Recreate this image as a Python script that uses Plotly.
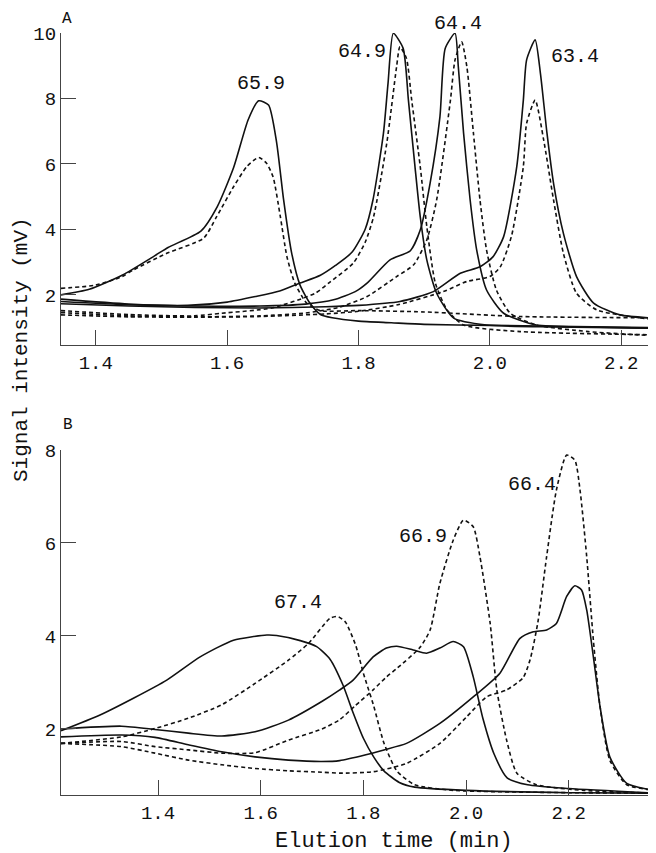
import plotly.graph_objects as go

# ---------------- Panel A data (elution time in min, signal in mV) ----------------
a659_sol_x = [1.347, 1.39, 1.44, 1.49, 1.51, 1.56, 1.585, 1.61, 1.632, 1.648, 1.663, 1.675, 1.686, 1.698, 1.711, 1.726, 1.742, 1.76, 1.80, 1.85, 1.90, 2.0, 2.1, 2.253]
a659_sol_y = [2.00, 2.17, 2.6, 3.2, 3.45, 3.95, 4.7, 5.9, 7.35, 7.93, 7.8, 6.7, 4.9, 3.3, 2.3, 1.75, 1.4, 1.3, 1.2, 1.15, 1.1, 1.07, 1.04, 1.0]
a659_das_x = [1.347, 1.40, 1.44, 1.457, 1.508, 1.564, 1.584, 1.61, 1.63, 1.648, 1.66, 1.67, 1.681, 1.691, 1.703, 1.721, 1.742, 1.80, 1.90, 2.046, 2.253]
a659_das_y = [2.2, 2.3, 2.56, 2.76, 3.27, 3.73, 4.39, 5.31, 5.92, 6.2, 6.02, 5.6, 4.39, 3.17, 2.36, 1.75, 1.52, 1.52, 1.48, 1.34, 1.3]

a649_sol_x = [1.347, 1.45, 1.54, 1.60, 1.643, 1.68, 1.711, 1.742, 1.765, 1.79, 1.81, 1.822, 1.838, 1.845, 1.853, 1.868, 1.876, 1.886, 1.894, 1.904, 1.919, 1.945, 1.995, 2.1, 2.253]
a649_sol_y = [1.87, 1.72, 1.68, 1.78, 1.95, 2.12, 2.36, 2.6, 2.9, 3.3, 4.0, 4.9, 6.94, 8.47, 9.99, 9.53, 7.95, 5.92, 4.39, 3.07, 2.05, 1.29, 1.08, 1.02, 0.98]
a649_das_x = [1.347, 1.45, 1.55, 1.592, 1.668, 1.734, 1.757, 1.792, 1.81, 1.823, 1.843, 1.858, 1.863, 1.873, 1.881, 1.894, 1.904, 1.917, 1.935, 1.96, 2.046, 2.253]
a649_das_y = [1.52, 1.4, 1.36, 1.44, 1.6, 2.05, 2.4, 2.97, 3.6, 4.39, 6.63, 8.97, 9.58, 9.23, 7.95, 5.92, 4.09, 2.36, 1.54, 1.08, 0.88, 0.78]

a644_sol_x = [1.347, 1.45, 1.55, 1.65, 1.719, 1.762, 1.795, 1.813, 1.848, 1.879, 1.894, 1.909, 1.924, 1.932, 1.947, 1.952, 1.96, 1.97, 1.98, 1.995, 2.021, 2.071, 2.15, 2.253]
a644_sol_y = [1.8, 1.7, 1.66, 1.66, 1.72, 1.85, 2.1, 2.36, 3.07, 3.35, 3.98, 5.41, 7.44, 9.53, 9.99, 8.97, 6.94, 4.9, 3.37, 2.15, 1.44, 1.08, 1.02, 0.98]
a644_das_x = [1.347, 1.45, 1.55, 1.65, 1.72, 1.77, 1.813, 1.858, 1.884, 1.904, 1.919, 1.94, 1.947, 1.957, 1.965, 1.975, 1.985, 1.995, 2.01, 2.031, 2.071, 2.15, 2.253]
a644_das_y = [1.46, 1.36, 1.33, 1.36, 1.45, 1.62, 1.95, 2.56, 2.92, 3.68, 4.9, 7.95, 9.18, 9.73, 8.97, 6.94, 4.9, 3.37, 2.15, 1.44, 1.08, 0.88, 0.75]

a634_sol_x = [1.347, 1.45, 1.55, 1.65, 1.75, 1.80, 1.863, 1.914, 1.955, 1.985, 2.005, 2.021, 2.041, 2.051, 2.056, 2.069, 2.077, 2.087, 2.097, 2.112, 2.132, 2.158, 2.198, 2.253]
a634_sol_y = [1.73, 1.66, 1.62, 1.6, 1.64, 1.68, 1.8, 2.1, 2.66, 2.86, 3.17, 3.78, 5.92, 7.95, 9.18, 9.79, 8.77, 6.94, 5.41, 3.88, 2.56, 1.75, 1.39, 1.29]
a634_das_x = [1.347, 1.45, 1.55, 1.65, 1.75, 1.80, 1.86, 1.929, 1.965, 2.0, 2.016, 2.033, 2.051, 2.056, 2.069, 2.082, 2.097, 2.112, 2.132, 2.163, 2.253]
a634_das_y = [1.39, 1.33, 1.32, 1.34, 1.42, 1.5, 1.7, 2.1, 2.41, 2.56, 2.86, 3.8, 5.92, 7.24, 7.95, 6.73, 4.9, 3.27, 2.05, 1.54, 1.24]

# ---------------- Panel B data ----------------
b674_sol_x = [1.211, 1.287, 1.352, 1.417, 1.482, 1.547, 1.612, 1.631, 1.677, 1.709, 1.735, 1.76, 1.78, 1.80, 1.82, 1.84, 1.87, 1.90, 2.0, 2.2, 2.37]
b674_sol_y = [1.96, 2.30, 2.66, 3.05, 3.55, 3.91, 4.02, 4.01, 3.90, 3.77, 3.5, 2.95, 2.35, 1.8, 1.4, 1.1, 0.85, 0.75, 0.68, 0.63, 0.62]
b674_das_x = [1.211, 1.329, 1.394, 1.459, 1.524, 1.589, 1.654, 1.693, 1.735, 1.75, 1.765, 1.785, 1.80, 1.82, 1.84, 1.865, 1.90, 1.975, 2.2, 2.37]
b674_das_y = [1.69, 1.83, 2.01, 2.23, 2.52, 2.98, 3.48, 3.84, 4.38, 4.42, 4.3, 3.8, 3.2, 2.5, 1.7, 1.1, 0.8, 0.68, 0.63, 0.62]

b669_sol_x = [1.211, 1.329, 1.394, 1.459, 1.524, 1.589, 1.654, 1.719, 1.754, 1.78, 1.819, 1.845, 1.865, 1.897, 1.923, 1.949, 1.975, 1.995, 2.014, 2.033, 2.055, 2.08, 2.12, 2.2, 2.37]
b669_sol_y = [2.0, 2.06, 1.99, 1.91, 1.85, 1.94, 2.19, 2.59, 2.84, 3.05, 3.55, 3.74, 3.78, 3.70, 3.63, 3.74, 3.88, 3.77, 3.12, 2.22, 1.45, 0.95, 0.8, 0.72, 0.62]
b669_das_x = [1.211, 1.329, 1.394, 1.459, 1.524, 1.589, 1.654, 1.719, 1.754, 1.784, 1.819, 1.845, 1.865, 1.91, 1.93, 1.949, 1.975, 1.995, 2.014, 2.027, 2.047, 2.06, 2.079, 2.099, 2.137, 2.23, 2.37]
b669_das_y = [1.69, 1.73, 1.62, 1.55, 1.48, 1.49, 1.76, 2.0, 2.2, 2.5, 2.84, 3.12, 3.3, 3.75, 4.13, 5.13, 6.06, 6.49, 6.35, 5.71, 4.27, 2.84, 1.76, 1.05, 0.80, 0.68, 0.62]

b664_sol_x = [1.211, 1.329, 1.394, 1.459, 1.524, 1.589, 1.654, 1.719, 1.754, 1.803, 1.84, 1.884, 1.949, 2.014, 2.066, 2.105, 2.131, 2.157, 2.176, 2.196, 2.212, 2.225, 2.235, 2.248, 2.261, 2.28, 2.313, 2.358, 2.37]
b664_sol_y = [1.83, 1.87, 1.82, 1.66, 1.51, 1.40, 1.33, 1.30, 1.32, 1.44, 1.55, 1.69, 2.12, 2.69, 3.20, 3.95, 4.09, 4.13, 4.27, 4.85, 5.08, 4.99, 4.56, 3.55, 2.48, 1.40, 0.83, 0.69, 0.65]
b664_das_x = [1.211, 1.329, 1.394, 1.459, 1.524, 1.589, 1.654, 1.719, 1.754, 1.819, 1.884, 1.949, 2.001, 2.04, 2.079, 2.111, 2.125, 2.14, 2.157, 2.176, 2.196, 2.212, 2.222, 2.235, 2.248, 2.261, 2.28, 2.313, 2.358, 2.37]
b664_das_y = [1.69, 1.62, 1.48, 1.33, 1.23, 1.15, 1.10, 1.07, 1.05, 1.08, 1.26, 1.69, 2.26, 2.69, 2.84, 3.1, 3.5, 4.3, 5.71, 7.14, 7.89, 7.78, 7.14, 5.71, 3.91, 2.48, 1.33, 0.80, 0.69, 0.65]

# peak labels: (text, x, y) in data units
a_labels = [("65.9", 1.652, 8.47), ("64.9", 1.806, 9.45), ("64.4", 1.952, 10.3), ("63.4", 2.13, 9.27)]
b_labels = [("67.4", 1.673, 4.73), ("66.9", 1.916, 6.13), ("66.4", 2.128, 7.25)]

a_ticks_x = [1.4, 1.6, 1.8, 2.0, 2.2]
a_ticks_y = [2, 4, 6, 8, 10]
b_ticks_x = [1.4, 1.6, 1.8, 2.0, 2.2]
b_ticks_y = [2, 4, 6, 8]

FONT = "Liberation Mono"
INK = "#111111"
AXC = "#444444"

fig = go.Figure()

def add(x, y, dashed, xa, ya):
    fig.add_trace(go.Scatter(
        x=x, y=y, mode="lines", xaxis=xa, yaxis=ya, showlegend=False,
        line=dict(color=INK, width=1.6, dash="4px,3px" if dashed else "solid",
                  shape="spline", smoothing=0.6),
        hoverinfo="skip"))

for xs, ys, d in [(a659_sol_x, a659_sol_y, False), (a659_das_x, a659_das_y, True),
                  (a649_sol_x, a649_sol_y, False), (a649_das_x, a649_das_y, True),
                  (a644_sol_x, a644_sol_y, False), (a644_das_x, a644_das_y, True),
                  (a634_sol_x, a634_sol_y, False), (a634_das_x, a634_das_y, True)]:
    add(xs, ys, d, "x", "y")

for xs, ys, d in [(b674_sol_x, b674_sol_y, False), (b674_das_x, b674_das_y, True),
                  (b669_sol_x, b669_sol_y, False), (b669_das_x, b669_das_y, True),
                  (b664_sol_x, b664_sol_y, False), (b664_das_x, b664_das_y, True)]:
    add(xs, ys, d, "x2", "y2")

# page body adds an 8px offset; the figure is sized so that it fills the 656x853 window
OFF = 8
W, H = 656 - OFF, 853 - OFF
ML, MR, MT, MB = 61 - OFF, 0, 33 - OFF, 853 - 795
plot_h = H - MT - MB


def px_x(p):
    return (p - OFF - ML) / (W - ML - MR)


def px_y(p):
    return (H - MB - (p - OFF)) / plot_h


top_bottom = px_y(345)
bot_top = px_y(450)
a_px_per_unit = (345 - 33) / (10 - 0.47)

axis_common = dict(showline=True, linecolor=AXC, linewidth=1.2, ticks="inside", ticklen=15,
                   tickcolor=AXC, tickwidth=1.2, showgrid=False, zeroline=False, mirror=False,
                   tickfont=dict(family=FONT, size=19, color=INK))

annotations = []
for t, x, y in a_labels:
    ycl = min(y, 9.95)
    annotations.append(dict(text=t, x=x, y=ycl, xref="x", yref="y", showarrow=False,
                            xanchor="center", yanchor="middle",
                            yshift=(y - ycl) * a_px_per_unit,
                            font=dict(family=FONT, size=20, color=INK)))
for t, x, y in b_labels:
    annotations.append(dict(text=t, x=x, y=y, xref="x2", yref="y2", showarrow=False,
                            xanchor="center", yanchor="middle",
                            font=dict(family=FONT, size=20, color=INK)))

annotations += [
    dict(text="A", x=px_x(67), y=px_y(19), xref="paper", yref="paper", showarrow=False,
         xanchor="center", yanchor="middle", font=dict(family=FONT, size=16, color=INK)),
    dict(text="B", x=px_x(68), y=px_y(425), xref="paper", yref="paper", showarrow=False,
         xanchor="center", yanchor="middle", font=dict(family=FONT, size=16, color=INK)),
    dict(text="Elution time (min)", x=px_x(394), y=px_y(841), xref="paper", yref="paper",
         showarrow=False, xanchor="center", yanchor="middle",
         font=dict(family=FONT, size=22, color=INK)),
    dict(text="Signal intensity (mV)", x=px_x(21), y=px_y(350), xref="paper", yref="paper",
         showarrow=False, textangle=-90, xanchor="center", yanchor="middle",
         font=dict(family=FONT, size=21, color=INK)),
]

fig.update_layout(
    width=W, height=H, paper_bgcolor="white", plot_bgcolor="white",
    margin=dict(l=ML, r=MR, t=MT, b=MB),
    xaxis=dict(domain=[0, 1], range=[1.347, 2.253], tickvals=a_ticks_x,
               ticktext=[f"{v:.1f}" for v in a_ticks_x], anchor="y", **axis_common),
    yaxis=dict(domain=[top_bottom, 1], range=[0.47, 10], tickvals=a_ticks_y, anchor="x", **axis_common),
    xaxis2=dict(domain=[0, 1], range=[1.211, 2.37], tickvals=b_ticks_x,
                ticktext=[f"{v:.1f}" for v in b_ticks_x], anchor="y2", **axis_common),
    yaxis2=dict(domain=[0, bot_top], range=[0.58, 8], tickvals=b_ticks_y, anchor="x2", **axis_common),
    annotations=annotations,
)

fig.write_html("out.html")
